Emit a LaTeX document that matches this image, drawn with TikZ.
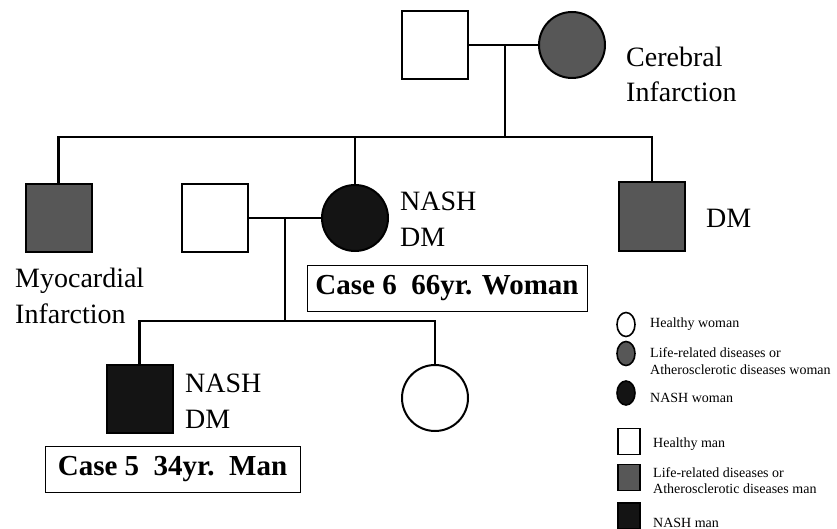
\documentclass[tikz,border=0pt]{standalone}
\usepackage{fontspec}
\setmainfont{Liberation Serif}
\usetikzlibrary{shapes.geometric}
\begin{document}
\begin{tikzpicture}[x=1pt,y=-1pt,
  male/.style={draw,line width=2pt,rectangle,minimum width=66pt,minimum height=68pt,inner sep=0pt},
  female/.style={draw,line width=2pt,circle,minimum size=66pt,inner sep=0pt},
  affected/.style={fill=black!66},
  nashfill/.style={fill=black!92},
  link/.style={line width=2.5pt},
  lbl/.style={font=\fontsize{28}{33}\selectfont,anchor=base west,inner sep=0pt},
  casebox/.style={draw,line width=1pt,font=\bfseries\fontsize{29}{34}\selectfont,inner sep=0pt,minimum height=46pt},
  leg/.style={font=\fontsize{14}{16}\selectfont,anchor=base west,inner sep=0pt},
  legf/.style={draw,ellipse,line width=1.6pt,minimum width=18pt,minimum height=24pt,inner sep=0pt},
  legm/.style={draw,rectangle,line width=1.6pt,minimum width=22pt,minimum height=26pt,inner sep=0pt}]
\useasboundingbox (0,0) rectangle (837,529);

% generation I
\node[male] (gf) at (435,45) {};
\node[female,affected] (gm) at (572,45) {};
% generation II
\node[male,affected] (s1) at (58.5,218) {};
\node[female,nashfill] (s2) at (355,218) {};
\node[male,affected] (s3) at (652,216.5) {};
\node[male] (sp) at (215,218) {};
% generation III
\node[male,nashfill] (son) at (139.5,399) {};
\node[female] (dau) at (435,398) {};

% connectors
\coordinate (m1) at (505,45);
\coordinate (bar1) at (505,137);
\draw[link] (gf.east) -- (gm.west);
\draw[link] (m1) -- (bar1);
\draw[link] (s1.north) -- (s1.north |- bar1) -- (s3.north |- bar1) -- (s3.north);
\draw[link] (s2.north) -- (s2.north |- bar1);
\coordinate (m2) at (285,218);
\coordinate (bar2) at (285,321);
\draw[link] (sp.east) -- (s2.west);
\draw[link] (m2) -- (bar2);
\draw[link] (son.north) -- (son.north |- bar2) -- (dau.north |- bar2) -- (dau.north);

% labels
\node[lbl] (t1) at (626,67) {Cerebral};
\node[lbl] (t2) at (626,102) {Infarction};
\node[lbl] (t3) at (400,211) {NASH};
\node[lbl] (t4) at (400,247) {DM};
\node[lbl] (t5) at (706,228) {DM};
\node[lbl] (t6) at (15,287) {Myocardial};
\node[lbl] (t7) at (15,323) {Infarction};
\node[lbl] (t8) at (185,392) {NASH};
\node[lbl] (t9) at (185,428) {DM};
\node[casebox,minimum width=280pt] (c6) at (447,288) {Case 6\ \ 66yr. Woman};
\node[casebox,minimum width=255pt] (c5) at (172.5,469) {Case 5\ \ 34yr.\ \ Man};

% legend
\node[legf] (l1) at (626,324.5) {};
\node[legf,affected] (l2) at (626,353.5) {};
\node[legf,nashfill] (l3) at (626,393) {};
\node[legm] (l4) at (629,441.5) {};
\node[legm,affected] (l5) at (629,477.5) {};
\node[legm,nashfill] (l6) at (629,516) {};
\node[leg] (lt1) at (650,327) {Healthy woman};
\node[leg] (lt2) at (650,357) {Life-related diseases or};
\node[leg] (lt3) at (650,374) {Atherosclerotic diseases woman};
\node[leg] (lt4) at (650,402) {NASH woman};
\node[leg] (lt5) at (653,447) {Healthy man};
\node[leg] (lt6) at (653,477) {Life-related diseases or};
\node[leg] (lt7) at (653,493) {Atherosclerotic diseases man};
\node[leg] (lt8) at (653,527) {NASH man};
\end{tikzpicture}
\end{document}
